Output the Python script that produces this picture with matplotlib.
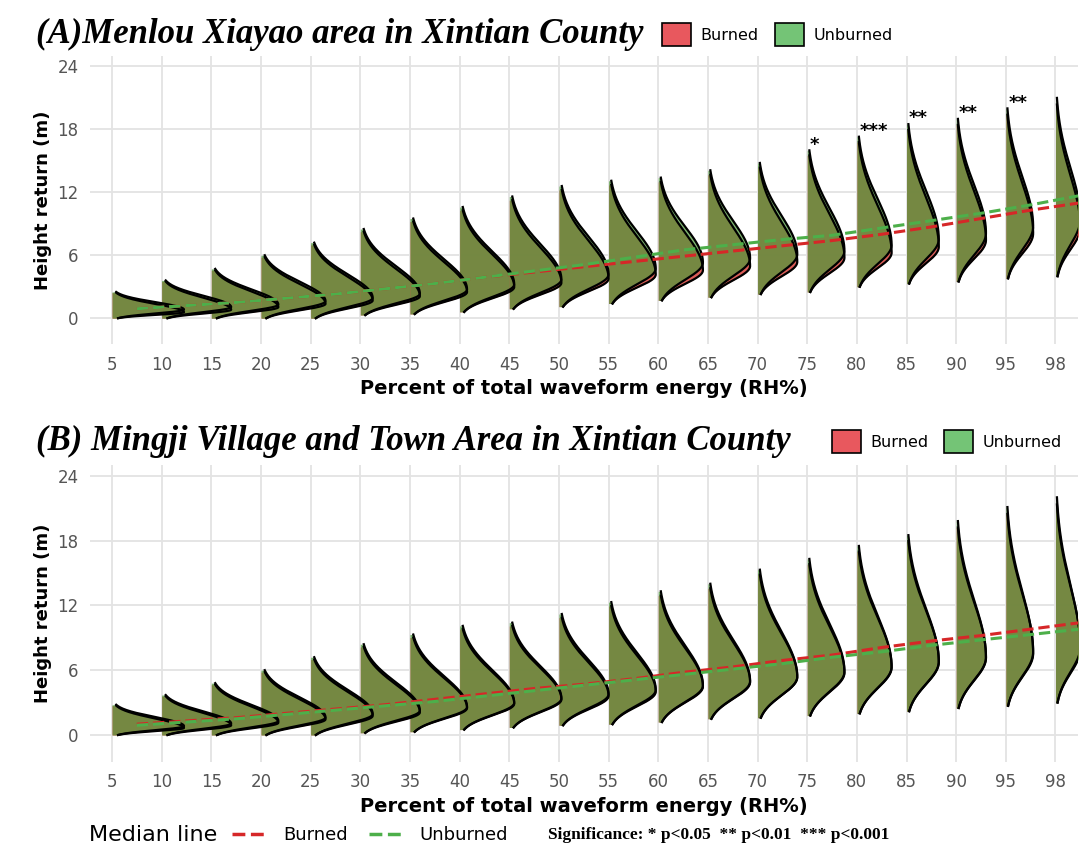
import numpy as np
import matplotlib.pyplot as plt
from matplotlib.patches import Patch
from matplotlib.lines import Line2D

rh = ['5', '10', '15', '20', '25', '30', '35', '40', '45', '50',
      '55', '60', '65', '70', '75', '80', '85', '90', '95', '98']

# panel A (Menlou Xiayao)
a_top = [2.5, 3.6, 4.7, 6.0, 7.2, 8.5, 9.5, 10.6, 11.6, 12.6, 13.1, 13.4, 14.1, 14.8, 16.0, 17.3, 18.5, 19.0, 20.0, 21.0]
a_low = [0, 0, 0, 0, 0, 0.3, 0.4, 0.6, 0.9, 1.1, 1.4, 1.7, 2.0, 2.3, 2.5, 3.0, 3.3, 3.5, 3.8, 4.0]
a_med_b = [0.9, 1.2, 1.5, 1.9, 2.3, 2.8, 3.3, 3.9, 4.4, 4.9, 5.4, 5.9, 6.4, 6.9, 7.4, 8.0, 8.7, 9.5, 10.3, 11.0]
a_med_u = [0.9, 1.2, 1.5, 1.9, 2.3, 2.8, 3.3, 3.9, 4.5, 5.1, 5.8, 6.5, 7.0, 7.5, 7.9, 8.6, 9.3, 10.0, 10.8, 11.7]
a_stars = {'75': '*', '80': '***', '85': '**', '90': '**', '95': '**'}

# panel B (Mingji Village and Town)
b_top = [2.8, 3.7, 4.8, 6.0, 7.2, 8.4, 9.3, 10.1, 10.4, 11.2, 12.3, 13.3, 14.0, 15.3, 16.3, 17.5, 18.5, 19.8, 21.1, 22.0]
b_low = [0, 0, 0, 0, 0, 0.2, 0.3, 0.5, 0.7, 0.9, 1.0, 1.2, 1.5, 1.6, 1.8, 2.0, 2.2, 2.5, 2.7, 3.0]
b_med_b = [1.0, 1.3, 1.6, 2.0, 2.4, 2.8, 3.3, 3.8, 4.3, 4.7, 5.2, 5.8, 6.3, 6.9, 7.4, 8.1, 8.7, 9.2, 9.8, 10.4]
b_med_u = [0.9, 1.2, 1.5, 1.9, 2.3, 2.7, 3.1, 3.6, 4.1, 4.6, 5.1, 5.6, 6.1, 6.6, 7.2, 7.7, 8.3, 8.8, 9.3, 9.8]

RED = '#e8585e'
GREEN = '#74c476'


def shape(lo, top, mode, n=200):
    y = np.linspace(lo, top, n)
    s_lo = max((mode - lo) * 0.45, 0.25)
    s_hi = (top - mode) * 0.42
    d = np.where(y < mode, np.exp(-0.5 * ((y - mode) / s_lo) ** 2),
                 np.exp(-0.5 * ((y - mode) / s_hi) ** 2))
    return y, d


def panel(ax, top, low, med_b, med_u):
    x = np.arange(len(rh))
    for i in range(len(rh)):
        w = 1.45 - 0.95 * i / (len(rh) - 1)
        for med, col, al, off in [(med_b, '#d9534f', 0.95, -0.15), (med_u, '#4e9a3a', 0.72, 0.1)]:
            mode = med[i] * 0.8 + off
            y, d = shape(low[i], top[i] * (1 if col != '#d9534f' else 0.97), mode)
            xs = x[i] + w * d
            ax.fill_betweenx(y, x[i], xs, color=col, alpha=al, lw=0)
            ax.plot(xs, y, color='black', lw=1.6)
    ax.plot(x + 0.5, med_b, '--', color='#d62728', lw=2.2, zorder=5)
    ax.plot(x + 0.5, med_u, '--', color='#4daf4a', lw=2.2, zorder=5)
    ax.set_xticks(x)
    ax.set_xticklabels(rh)
    ax.set_yticks([0, 6, 12, 18, 24])
    ax.set_ylim(-2.5, 25)
    ax.set_xlim(-0.45, len(rh) - 0.55)
    ax.grid(color='#e3e3e3', lw=1.3)
    ax.set_axisbelow(True)
    for s in ax.spines.values():
        s.set_visible(False)
    ax.tick_params(length=0, labelsize=12, colors='#555555', pad=8)
    ax.set_xlabel('Percent of total waveform energy (RH%)', fontsize=14, fontweight='bold')
    ax.set_ylabel('Height return (m)', fontsize=13, fontweight='bold')


fig = plt.figure(figsize=(10.8, 8.61), dpi=100)
ax1 = fig.add_axes([0.083, 0.6, 0.915, 0.335])
ax2 = fig.add_axes([0.083, 0.115, 0.915, 0.345])
panel(ax1, a_top, a_low, a_med_b, a_med_u)
panel(ax2, b_top, b_low, b_med_b, b_med_u)

for k, v in a_stars.items():
    i = rh.index(k)
    ax1.text(i + 0.05, a_top[i] - 0.3, v, fontsize=13, fontweight='bold', va='bottom')

serif = ['Liberation Serif', 'DejaVu Serif']
fig.text(0.033, 0.96, '(A)Menlou Xiayao area in Xintian County', fontsize=25,
         family=serif, style='italic', fontweight='bold', va='center')
fig.text(0.033, 0.487, '(B) Mingji Village and Town Area in Xintian County', fontsize=25,
         family=serif, style='italic', fontweight='bold', va='center')

handles = [Patch(facecolor=RED, edgecolor='black', lw=1.2, label='Burned'),
           Patch(facecolor=GREEN, edgecolor='black', lw=1.2, label='Unburned')]
for yy, xx in [(0.96, 0.6), (0.487, 0.757)]:
    fig.legend(handles=handles, loc='center left', bbox_to_anchor=(xx, yy), ncol=2,
               frameon=False, fontsize=11.5, handlelength=1.8, handleheight=1.8,
               columnspacing=1.0, handletextpad=0.6)

fig.text(0.082, 0.03, 'Median line', fontsize=16, va='center')
lines = [Line2D([], [], ls='--', color='#d62728', lw=2.5, label='Burned'),
         Line2D([], [], ls='--', color='#4daf4a', lw=2.5, label='Unburned')]
fig.legend(handles=lines, loc='center left', bbox_to_anchor=(0.2, 0.03), ncol=2,
           frameon=False, fontsize=13, handlelength=2, columnspacing=1.2)
fig.text(0.507, 0.03, 'Significance: * p<0.05  ** p<0.01  *** p<0.001', fontsize=12.5,
         family=serif, fontweight='bold', va='center')

fig.savefig('out.png', dpi=100)
